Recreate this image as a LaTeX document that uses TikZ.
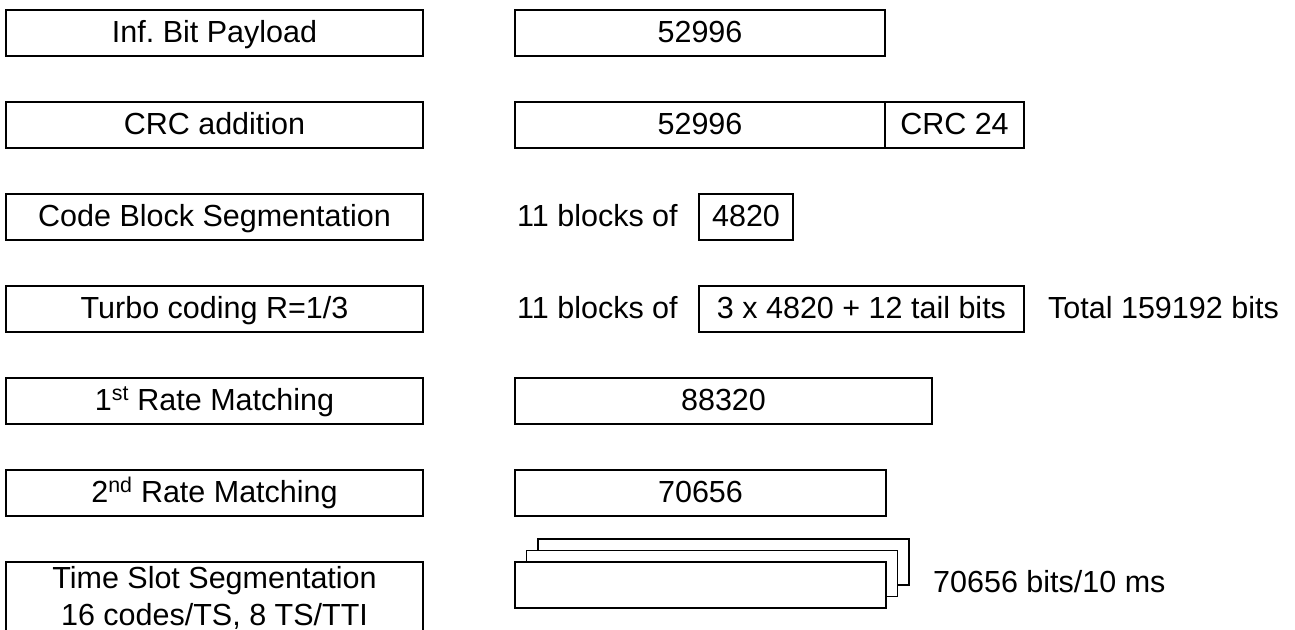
\documentclass[tikz,border=0pt]{standalone}
\usepackage{fontspec}
\setmainfont{Liberation Sans}
\usetikzlibrary{positioning}

\begin{document}
\begin{tikzpicture}[
    node distance=46pt and 92pt,
    box/.style={draw, rectangle, line width=1.5pt, outer sep=0pt, inner sep=0pt, font=\fontsize{30.5}{37}\selectfont},
    oneline/.style={text height=23pt, text depth=5pt},
    stage/.style={box, oneline, minimum width=417pt, minimum height=46pt},
    field/.style={box, oneline, minimum width=#1, minimum height=46pt},
    note/.style={inner sep=0pt, oneline, font=\fontsize{30.5}{37}\selectfont},
    slot/.style={draw, line width=1.5pt, fill=white, outer sep=0pt, minimum width=371pt, minimum height=46pt, inner sep=0pt}
]
\clip (0pt,0pt) rectangle (1295pt,-629pt);

% Left column: processing stages
\node[stage] (payload) at (214.5pt,-33pt) {Inf.\ Bit Payload};
\node[stage, below=of payload] (crcadd) {CRC addition};
\node[stage, below=of crcadd] (cbseg) {Code Block Segmentation};
\node[stage, below=of cbseg] (turbo) {Turbo coding R=1/3};
\node[stage, below=of turbo] (rm1) {1\textsuperscript{st} Rate Matching};
\node[stage, below=of rm1] (rm2) {2\textsuperscript{nd} Rate Matching};
\node[box, below=of rm2, minimum width=417pt, minimum height=71pt, align=center] (tsseg) {Time Slot Segmentation\\16 codes/TS, 8 TS/TTI};

% Right column: bit counts per stage
\node[field=370pt, right=of payload] (pay) {52996};
\node[field=370pt, right=of crcadd] (data) {52996};
\node[field=139pt, right=0pt of data] (crc) {CRC 24};
\node[note, right=of cbseg, xshift=2pt] (nblk1) {11 blocks of};
\node[field=94pt, right=276pt of cbseg] (cblock) {4820};
\node[note, right=of turbo, xshift=2pt] (nblk2) {11 blocks of};
\node[field=325pt, right=276pt of turbo] (tblock) {3 x 4820 + 12 tail bits};
\node[note, right=24pt of tblock] (total) {Total 159192 bits};
\node[field=417pt, right=of rm1] (rmout1) {88320};
\node[field=371pt, right=of rm2] (rmout2) {70656};

% Stacked time slots (back to front)
\node[slot, anchor=north west] (slot3) at ([xshift=115pt, yshift=23pt]tsseg.north east) {};
\node[slot, anchor=north west] (slot2) at ([xshift=103.5pt, yshift=11.5pt]tsseg.north east) {};
\node[slot, anchor=north west] (slot1) at ([xshift=92pt]tsseg.north east) {};
\node[note, right=47pt of slot1, yshift=2pt] (rate) {70656 bits/10 ms};

\end{tikzpicture}
\end{document}
